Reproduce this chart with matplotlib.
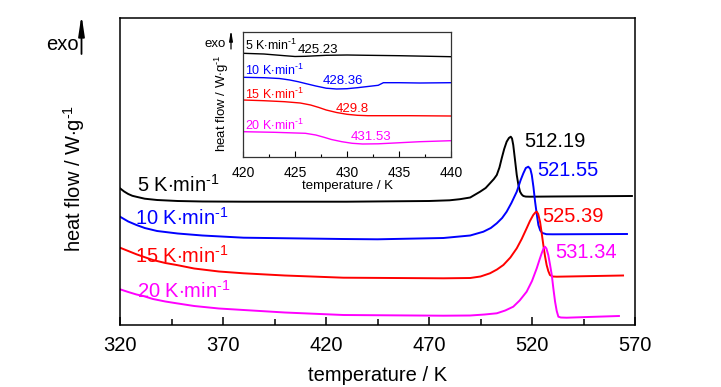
import numpy as np
import matplotlib
matplotlib.use('Agg')
import matplotlib.pyplot as plt

plt.rcParams['font.family'] = ['Liberation Sans', 'DejaVu Sans']
plt.rcParams['mathtext.fontset'] = 'custom'
plt.rcParams['mathtext.rm'] = 'Liberation Sans'
plt.rcParams['mathtext.it'] = 'Liberation Sans:italic'

# main DSC curves, temperature / K and heat flow (arbitrary offset units)
t5 = [320, 322, 324, 326, 328, 332, 338, 348, 360, 380, 430, 470, 480, 485, 490,
      494.8, 497.5, 499.6, 501.5, 502.9, 504.2, 505.3, 506.5, 507.7, 508.8, 509.7,
      510.3, 510.9, 511.7, 512.6, 513.4, 514.2, 515, 515.8, 517, 519, 530, 568.5]
h5 = [1.367, 1.335, 1.31, 1.292, 1.282, 1.263, 1.25, 1.24, 1.235, 1.233, 1.233,
      1.24, 1.247, 1.258, 1.275, 1.333, 1.37, 1.417, 1.46, 1.50, 1.575, 1.667,
      1.76, 1.833, 1.87, 1.883, 1.865, 1.80, 1.66, 1.50, 1.40, 1.333, 1.305, 1.29,
      1.284, 1.283, 1.285, 1.29]

t10 = [320, 324, 328, 332, 338, 348, 360, 380, 428, 445, 477, 490, 496.4, 500,
       502.9, 505.5, 507.7, 510, 512.6, 514.5, 515.8, 517, 518.2, 519.2, 519.9,
       520.7, 521.5, 522.3, 523.1, 524, 525, 527, 530, 566.1]
h10 = [1.083, 1.035, 1.0, 0.97, 0.94, 0.915, 0.895, 0.873, 0.86, 0.857, 0.87,
       0.895, 0.933, 0.97, 1.017, 1.07, 1.133, 1.22, 1.333, 1.45, 1.517, 1.57,
       1.583, 1.56, 1.50, 1.38, 1.233, 1.11, 1.0, 0.945, 0.92, 0.908, 0.907, 0.91]

t15 = [320, 324, 328, 331.3, 336, 342, 347.5, 356, 368, 380, 400, 428.4, 477, 490,
       495, 499.6, 503, 506.1, 509.5, 512.6, 515, 517.4, 519, 520.6, 521.6, 522.3,
       523, 523.9, 524.7, 525.5, 526.3, 527.1, 527.9, 528.7, 530, 532, 564.2]
h15 = [0.773, 0.74, 0.707, 0.683, 0.65, 0.62, 0.60, 0.565, 0.535, 0.517, 0.495,
       0.473, 0.467, 0.47, 0.485, 0.517, 0.555, 0.60, 0.675, 0.767, 0.86, 0.967,
       1.04, 1.10, 1.125, 1.133, 1.11, 1.033, 0.92, 0.80, 0.69, 0.60, 0.54, 0.50,
       0.485, 0.483, 0.495]

t20 = [320, 324, 328, 331.3, 336, 342, 347.5, 356, 368, 380, 400, 428.4, 477, 490,
       497, 502.9, 507, 510.9, 514, 517.4, 520, 522.3, 523.6, 524.7, 525.6, 526.3,
       527, 527.9, 528.7, 529.6, 530.4, 531.2, 532, 532.8, 534, 536.8, 562.2]
h20 = [0.357, 0.33, 0.305, 0.29, 0.26, 0.235, 0.217, 0.19, 0.165, 0.15, 0.125,
       0.10, 0.093, 0.095, 0.105, 0.117, 0.145, 0.183, 0.245, 0.333, 0.44, 0.567,
       0.65, 0.717, 0.765, 0.783, 0.765, 0.70, 0.61, 0.50, 0.36, 0.233, 0.14,
       0.083, 0.075, 0.073, 0.09]

# inset, 420-440 K
it5 = [420, 422, 424, 425, 426, 428, 430, 432, 435, 438, 440]
ih5 = [2.717, 2.71, 2.693, 2.685, 2.687, 2.697, 2.70, 2.697, 2.693, 2.687, 2.683]
it10 = [420, 422, 423.5, 424.5, 425.3, 426, 427, 428, 429, 430, 431, 432, 433,
        433.5, 435, 437, 440]
ih10 = [2.477, 2.473, 2.465, 2.45, 2.433, 2.415, 2.39, 2.368, 2.36, 2.363, 2.373,
        2.385, 2.397, 2.423, 2.423, 2.42, 2.423]
it15 = [420, 422, 424, 425.5, 426.5, 427.3, 428, 429, 430, 431, 432, 436, 440]
ih15 = [2.25, 2.243, 2.233, 2.22, 2.20, 2.175, 2.15, 2.125, 2.107, 2.097, 2.093,
        2.093, 2.09]
it20 = [420, 423, 426, 427, 427.8, 428.5, 429.5, 430.5, 431.5, 433, 434, 437, 440]
ih20 = [1.933, 1.927, 1.917, 1.90, 1.877, 1.855, 1.833, 1.817, 1.81, 1.812, 1.817,
        1.833, 1.843]

colors = ['black', '#0000ff', '#ff0000', '#ff00ff']
rates = ['5', '10', '15', '20']
peaks = ['512.19', '521.55', '525.39', '531.34']
onsets = ['425.23', '428.36', '429.8', '431.53']

unit = ' K$\\cdot$min$^{\\mathrm{\u20101}}$'
gunit = 'heat flow / W$\\cdot$g$^{\\mathrm{\u20101}}$'

fig = plt.figure(figsize=(7.21, 3.87), dpi=100)
ax = fig.add_axes([120/721, 1-325/387, 515/721, 307/387])

for t, h, c in zip([t5, t10, t15, t20], [h5, h10, h15, h20], colors):
    ax.plot(t, h, color=c, lw=1.4)

ax.set_xlim(320, 570)
ax.set_ylim(0, 3.07)
ax.set_xticks(np.arange(320, 571, 50))
ax.set_xticks(np.arange(345, 570, 50), minor=True)
ax.set_yticks([])
ax.tick_params(axis='x', direction='in', length=6, width=1.1, labelsize=14.5, pad=8)
ax.tick_params(axis='x', which='minor', direction='in', length=4, width=1.1)
for s in ax.spines.values():
    s.set_linewidth(1.1)
ax.set_xlabel('temperature / K', fontsize=14.5, labelpad=8)

rate_pos = [(328.4, 1.333), (327.3, 1.0), (327.3, 0.623), (328.1, 0.267)]
peak_pos = [(516.1, 1.783), (522.6, 1.49), (525.2, 1.033), (531.2, 0.667)]
for i in range(4):
    ax.text(rate_pos[i][0], rate_pos[i][1], rates[i] + unit,
            color=colors[i], fontsize=14.5, va='baseline')
    ax.text(peak_pos[i][0], peak_pos[i][1], peaks[i], color=colors[i],
            fontsize=14.5, va='baseline')

fig.text(74/721, 1-178/387, gunit, rotation=90,
         fontsize=14.5, ha='center', va='center')
fig.text(62/721, 1-45/387, 'exo', fontsize=14.5, ha='center', va='center')
fig.patches.append(matplotlib.patches.FancyArrowPatch(
    (81.5/721, 1-54/387), (81.5/721, 1-15/387), transform=fig.transFigure,
    arrowstyle='-|>,head_length=1.2,head_width=0.18', mutation_scale=10,
    lw=1.3, color='black', shrinkA=0, shrinkB=0))

# inset
ins = fig.add_axes([243/721, 1-156.7/387, 208/721, 125/387])
for t, h, c in zip([it5, it10, it15, it20], [ih5, ih10, ih15, ih20], colors):
    ins.plot(t, h, color=c, lw=1.0)
ins.set_xlim(420, 440)
ins.set_ylim(1.683, 2.933)
ins.set_xticks(np.arange(420, 441, 5))
ins.set_xticks(np.arange(422.5, 440, 5), minor=True)
ins.set_yticks([])
ins.tick_params(axis='x', direction='in', length=4, width=0.8, labelsize=10, pad=6.5)
ins.tick_params(axis='x', which='minor', direction='in', length=2.5, width=0.8)
for s in ins.spines.values():
    s.set_linewidth(0.9)
    s.set_color('#333333')
ins.set_xlabel('temperature / K', fontsize=9.5, labelpad=0)

irate_pos = [(420.16, 2.75), (420.16, 2.5), (420.16, 2.26), (420.16, 1.95)]
ion_pos = [(425.3, 2.717), (427.7, 2.407), (428.9, 2.127), (430.4, 1.85)]
for i in range(4):
    ins.text(irate_pos[i][0], irate_pos[i][1], rates[i] + unit,
             color=colors[i], fontsize=9, va='baseline')
    ins.text(ion_pos[i][0], ion_pos[i][1], onsets[i], color=colors[i],
             fontsize=9.5, va='baseline')

fig.text(222/721, 1-103/387, gunit, rotation=90,
         fontsize=9.5, ha='center', va='center')
fig.text(215/721, 1-44/387, 'exo', fontsize=9.5, ha='center', va='center')
fig.patches.append(matplotlib.patches.FancyArrowPatch(
    (231/721, 1-49/387), (231/721, 1-30/387), transform=fig.transFigure,
    arrowstyle='-|>,head_length=1.2,head_width=0.2', mutation_scale=5,
    lw=0.9, color='black', shrinkA=0, shrinkB=0))

fig.savefig('out.png', dpi=100)
